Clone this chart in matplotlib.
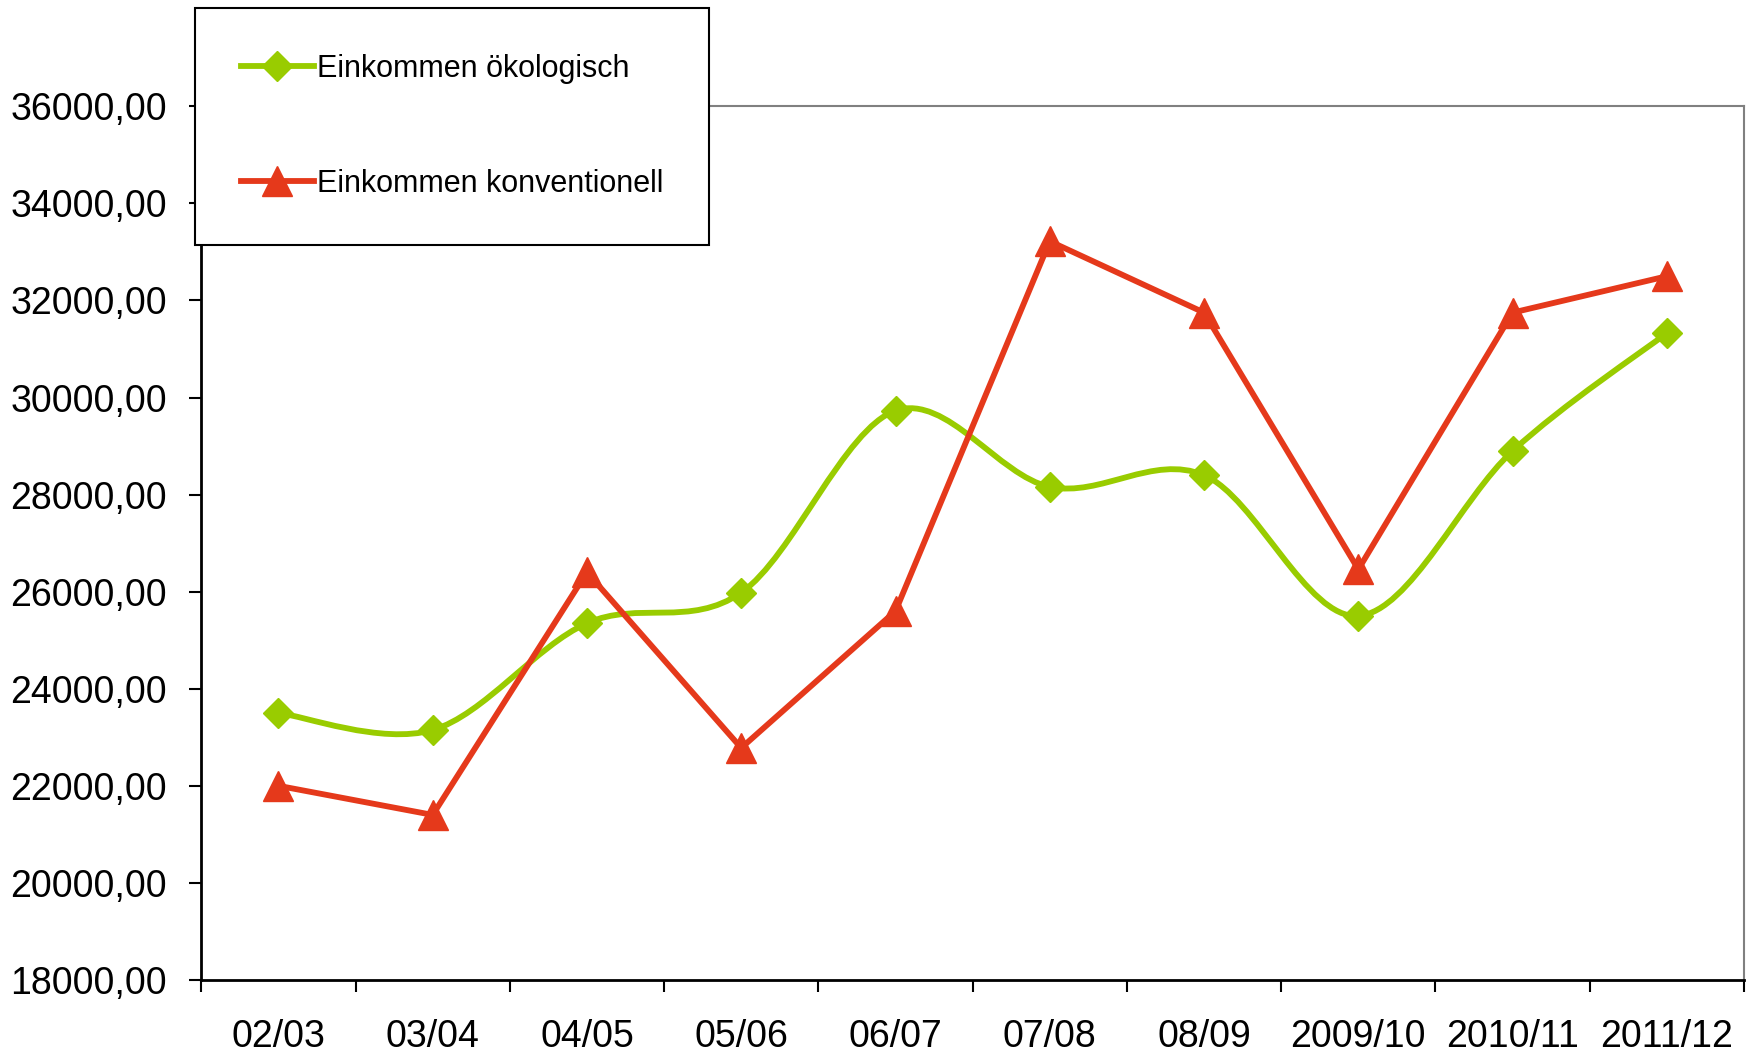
import numpy as np
import matplotlib
matplotlib.use("Agg")
from matplotlib import pyplot as plt
from matplotlib.path import Path
from matplotlib.patches import PathPatch
from matplotlib.lines import Line2D
from matplotlib.ticker import FuncFormatter

plt.rcParams['font.family'] = ['Liberation Sans', 'DejaVu Sans']

jahre = ["02/03", "03/04", "04/05", "05/06", "06/07", "07/08", "08/09",
         "2009/10", "2010/11", "2011/12"]
oekologisch = [23500, 23150, 25350, 25980, 29730, 28160, 28400, 25500, 28900, 31330]
konventionell = [22000, 21400, 26400, 22780, 25600, 33220, 31750, 26460, 31750, 32500]

gruen = '#99CC00'
rot = '#E5391B'

x = np.arange(len(jahre)) + 0.5

fig = plt.figure(figsize=(17.5, 10.53), dpi=100)
ax = fig.add_axes([0.115, 0.0694, 0.8816, 0.8296])

# geglaettete Linie wie in Excel (Bezier durch die Punkte)
pts = np.column_stack([x, oekologisch]).astype(float)
verts = [pts[0]]
codes = [Path.MOVETO]
for i in range(len(pts) - 1):
    p0 = pts[max(i - 1, 0)]
    p1 = pts[i]
    p2 = pts[i + 1]
    p3 = pts[min(i + 2, len(pts) - 1)]
    verts += [p1 + (p2 - p0) / 6, p2 - (p3 - p1) / 6, p2]
    codes += [Path.CURVE4] * 3
ax.add_patch(PathPatch(Path(verts, codes), fill=False, edgecolor=gruen,
                       lw=4.2, capstyle='round', joinstyle='round', zorder=3))
ax.plot(x, oekologisch, ls='none', marker='D', ms=15, color=gruen, zorder=4)

ax.plot(x, konventionell, color=rot, lw=4.2, marker='^', ms=21, zorder=5)

ax.set_xlim(0, len(jahre))
ax.set_ylim(18000, 36000)
ax.set_yticks(np.arange(18000, 36001, 2000))
ax.yaxis.set_major_formatter(FuncFormatter(lambda v, p: f"{v:.2f}".replace('.', ',')))

ax.set_xticks(x)
ax.set_xticklabels(jahre)
ax.set_xticks(np.arange(0, len(jahre) + 1), minor=True)
ax.tick_params(axis='x', which='major', length=0, pad=28, labelsize=27)
ax.tick_params(axis='x', which='minor', length=8.5, width=1.5, direction='out')
ax.tick_params(axis='y', length=8.5, width=1.5, direction='out', pad=16, labelsize=27)

for s in ['left', 'bottom']:
    ax.spines[s].set_color('black')
    ax.spines[s].set_linewidth(2)
for s in ['top', 'right']:
    ax.spines[s].set_color('#808080')
    ax.spines[s].set_linewidth(1.5)

handles = [
    Line2D([], [], color=gruen, lw=4.2, marker='D', ms=15),
    Line2D([], [], color=rot, lw=4.2, marker='^', ms=21),
]
leg = ax.legend(handles, ["Einkommen ökologisch", "Einkommen konventionell"],
                loc='upper left', bbox_to_anchor=(0.1114, 0.9924),
                bbox_transform=fig.transFigure, fontsize=22, frameon=True,
                fancybox=False, framealpha=1, edgecolor='black',
                borderpad=1.5, labelspacing=2.78, handlelength=2.4,
                handletextpad=0.1, borderaxespad=0)
leg.get_frame().set_linewidth(1.5)
leg.set_zorder(10)

fig.savefig("out.png", dpi=100)
